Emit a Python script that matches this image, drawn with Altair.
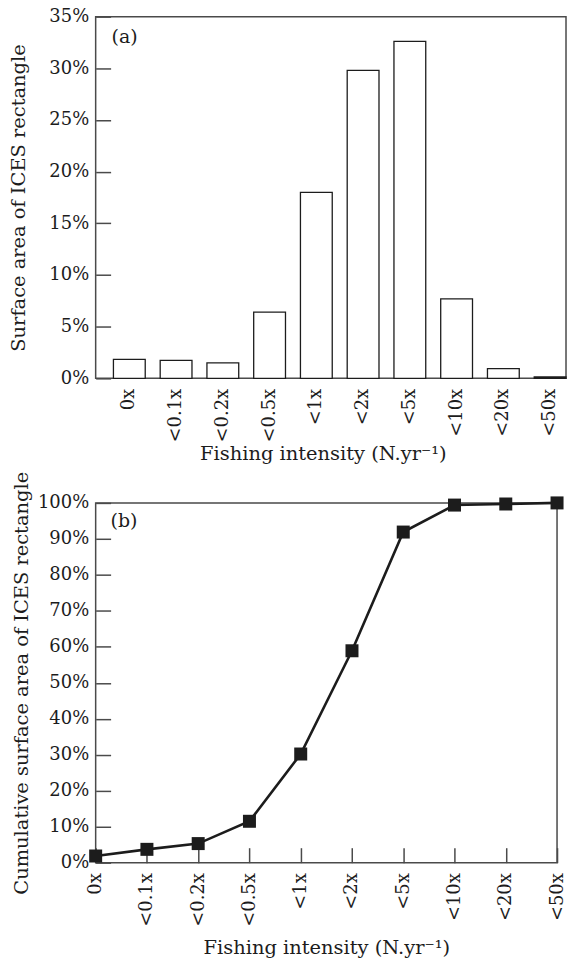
import altair as alt
import pandas as pd

# Fishing intensity classes (multiples of the yearly trawling frequency)
classes = ["0x", "<0.1x", "<0.2x", "<0.5x", "<1x", "<2x", "<5x", "<10x", "<20x", "<50x"]
# Share of the ICES rectangle surface in each class (%)
share = [1.83, 1.74, 1.5, 6.4, 18.0, 29.8, 32.6, 7.7, 0.94, 0.13]
# Cumulative share of surface (%)
cumulative = [1.85, 3.7, 5.3, 11.5, 30.2, 58.9, 91.9, 99.4, 99.7, 100.0]

FONT = "DejaVu Serif"
INK = "#1c1c1c"
X_TITLE = "Fishing intensity (N.yr\u207b\u00b9)"

df = pd.DataFrame({"cls": classes, "share": share, "cum": cumulative})


def panel_tag(label, x, y):
    """Small '(a)' / '(b)' tag in the upper-left corner of a panel."""
    return alt.Chart(pd.DataFrame({"tag": [label]})).mark_text(
        font=FONT, fontSize=19, fontWeight="normal", color=INK,
        align="left", baseline="middle",
    ).encode(text="tag:N", x=alt.value(x), y=alt.value(y))


# ---- (a) frequency histogram ----
xa = alt.X(
    "cls:N", sort=classes,
    scale=alt.Scale(paddingInner=0.32, paddingOuter=0.19, align=1),
    axis=alt.Axis(title=X_TITLE, ticks=False, domain=False, labelAngle=-90,
                  labelPadding=10, labelFontSize=18, titlePadding=3,
                  titleX=228, titleAlign="center"),
)
ya = alt.Y(
    "share:Q",
    scale=alt.Scale(domain=[0, 35], nice=False),
    axis=alt.Axis(title="Surface area of ICES rectangle",
                  values=[0, 5, 10, 15, 20, 25, 30, 35],
                  labelExpr="datum.value + '%'",
                  tickSize=15, offset=-15, domain=False, grid=False,
                  labelPadding=7, labelFontSize=18, titlePadding=20),
)
bars = alt.Chart(df).mark_bar(fill="white", stroke=INK, strokeWidth=1.3).encode(x=xa, y=ya)
panel_a = alt.layer(bars, panel_tag("(a)", 16, 20)).properties(width=472, height=363)

# ---- (b) cumulative curve ----
xb = alt.X(
    "cls:N", sort=classes,
    scale=alt.Scale(type="point", padding=0),
    axis=alt.Axis(title=X_TITLE, tickSize=15, offset=-15, domain=False,
                  labelAngle=-90, labelPadding=10, labelFontSize=18,
                  titlePadding=12),
)
yb = alt.Y(
    "cum:Q",
    scale=alt.Scale(domain=[0, 100], nice=False),
    axis=alt.Axis(title="Cumulative surface area of ICES rectangle",
                  values=list(range(0, 101, 10)),
                  labelExpr="datum.value + '%'",
                  tickSize=15, offset=-15, domain=False, grid=False,
                  labelPadding=7, labelFontSize=18, titlePadding=6),
)
base_b = alt.Chart(df).encode(x=xb, y=yb)
curve = base_b.mark_line(color=INK, strokeWidth=2.6)
squares = base_b.mark_square(size=170, color=INK, opacity=1)
panel_b = alt.layer(curve, squares, panel_tag("(b)", 15, 18)).properties(width=463, height=361)

chart = (
    alt.vconcat(panel_a, panel_b, spacing=125, bounds="flush")
    .properties(padding={"left": 8, "top": 5, "right": 0, "bottom": 0})
    .configure(font=FONT)
    .configure_view(stroke="#4a4a4a", strokeWidth=1.5)
    .configure_axis(labelFont=FONT, titleFont=FONT, labelColor=INK, titleColor=INK,
                    tickColor="#4a4a4a", tickWidth=1.5, titleFontSize=19.5,
                    titleFontWeight="normal")
)

chart.save("out.html", embed_options={"renderer": "svg", "actions": False})
